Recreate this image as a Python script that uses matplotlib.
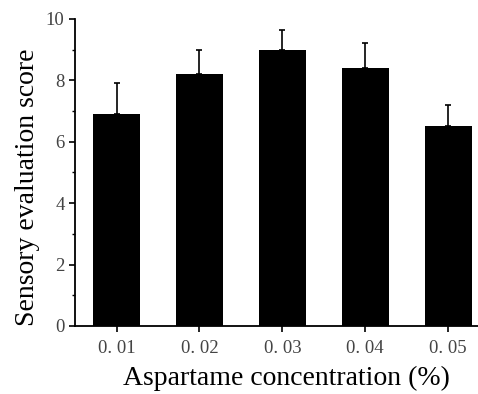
import matplotlib.pyplot as plt
from matplotlib.ticker import MultipleLocator

# Sensory score vs aspartame concentration
concentrations = ['0. 01', '0. 02', '0. 03', '0. 04', '0. 05']
scores = [6.9, 8.2, 9.0, 8.4, 6.5]
errors = [1.0, 0.8, 0.65, 0.83, 0.7]

plt.rcParams['font.family'] = ['Liberation Serif', 'DejaVu Serif']

fig = plt.figure(figsize=(4.78, 3.94), dpi=100)
ax = fig.add_axes([0.157, 0.1726, 0.843, 0.7792])

x = range(len(concentrations))
ax.bar(x, scores, width=0.566, color='black', zorder=2)
ax.errorbar(x, scores, yerr=[[0] * len(errors), errors], fmt='none',
            ecolor='black', elinewidth=1.2, capsize=2.5, capthick=1.2, zorder=1)

ax.set_xlim(-0.5, 4.36)
ax.set_ylim(0, 10)
ax.set_xticks(list(x))
ax.set_xticklabels(concentrations)
ax.yaxis.set_major_locator(MultipleLocator(2))
ax.yaxis.set_minor_locator(MultipleLocator(1))

for side in ['top', 'right']:
    ax.spines[side].set_visible(False)
for side in ['left', 'bottom']:
    ax.spines[side].set_linewidth(1.3)

ax.tick_params(axis='both', which='major', labelsize=13.5, labelcolor='#444444',
               length=4, width=1.2, direction='out')
ax.tick_params(axis='y', which='minor', length=2.5, width=1.0)
ax.tick_params(axis='x', pad=6)

ax.set_xlabel('Aspartame concentration (%)', fontsize=20)
ax.xaxis.set_label_coords(0.525, -0.172)
ax.xaxis.label.set_va('center')
ax.set_ylabel('Sensory evaluation score', fontsize=20, labelpad=4)
ax.yaxis.label.set_y(0.453)

fig.savefig('out.png', dpi=100)
